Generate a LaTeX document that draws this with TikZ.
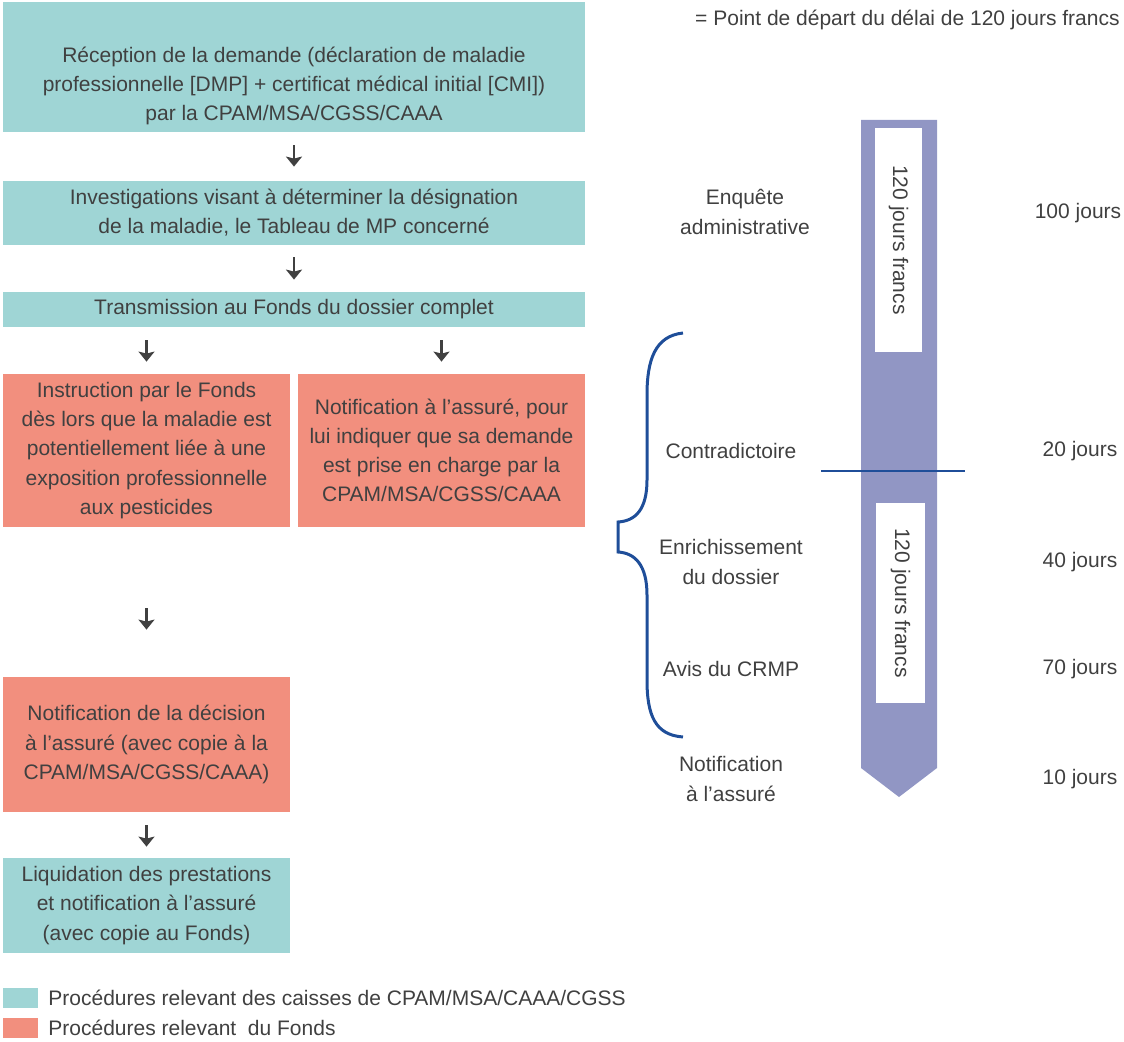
\documentclass[tikz,border=0pt]{standalone}
\usepackage{fontspec}
\setmainfont{Liberation Sans}
\usetikzlibrary{arrows.meta,positioning}

\definecolor{caisse}{HTML}{9FD5D5}
\definecolor{fonds}{HTML}{F28F7E}
\definecolor{barre}{HTML}{9196C4}
\definecolor{bleufonce}{HTML}{1F4E99}
\definecolor{texte}{HTML}{404040}

\tikzset{
  boite/.style={inner sep=0pt, align=center, text=texte,
    font=\fontsize{10.5}{14.6}\selectfont},
  boitecaisse/.style={boite, fill=caisse},
  boitefonds/.style={boite, fill=fonds},
  fleche/.style={->, line width=1.1pt, draw=texte},
  etiq/.style={align=center, text=texte, font=\fontsize{10.5}{14.6}\selectfont},
}

\begin{document}
\begin{tikzpicture}[x=0.5pt, y=-0.5pt, >={Stealth[length=5pt,width=8pt,inset=1pt]}]
  \useasboundingbox (0,0) rectangle (1124,1042);

  % Colonne de gauche
  \node[boitecaisse, minimum width=291pt, minimum height=65pt] (recep) at (294,67) {};
  \node[etiq, inner sep=0pt] (receptxt) at ([yshift=-9.5pt]recep.center)
    {Réception de la demande (déclaration de maladie\\professionnelle [DMP] + certificat médical initial [CMI])\\par la CPAM/MSA/CGSS/CAAA};
  \node[boitecaisse, minimum width=291pt, minimum height=32pt] (invest) at (294,213)
    {Investigations visant à déterminer la désignation\\de la maladie, le Tableau de MP concerné};
  \node[boitecaisse, minimum width=291pt, minimum height=17.5pt] (transm) at (294,309.5)
    {Transmission au Fonds du dossier complet};
  \node[boitefonds, minimum width=143.5pt, minimum height=76.5pt] (instr) at (146.5,450.5)
    {Instruction par le Fonds\\dès lors que la maladie est\\potentiellement liée à une\\exposition professionnelle\\aux pesticides};
  \node[boitefonds, minimum width=143.5pt, minimum height=76.5pt] (notifa) at (441.5,450.5)
    {Notification à l'assuré, pour\\lui indiquer que sa demande\\est prise en charge par la\\CPAM/MSA/CGSS/CAAA};
  \node[boitefonds, minimum width=143.5pt, minimum height=67.5pt] (decision) at (146.5,744.5)
    {Notification de la décision\\à l'assuré (avec copie à la\\CPAM/MSA/CGSS/CAAA)};
  \node[boitecaisse, minimum width=143.5pt, minimum height=47.5pt] (liquid) at (146.5,905.5)
    {Liquidation des prestations\\et notification à l'assuré\\(avec copie au Fonds)};

  % Flèches
  \draw[fleche, shorten <=6.5pt, shorten >=7pt] (recep) -- (invest);
  \draw[fleche, shorten <=6pt, shorten >=6pt] (invest) -- (transm);
  \draw[fleche, shorten <=6.5pt, shorten >=6pt] (instr |- transm.south) -- (instr.north);
  \draw[fleche, shorten <=6.5pt, shorten >=6pt] (notifa |- transm.south) -- (notifa.north);
  \draw[fleche, shorten <=40.5pt, shorten >=23.5pt] (instr) -- (decision);
  \draw[fleche, shorten <=6.5pt, shorten >=5.5pt] (decision) -- (liquid);

  % Légende
  \node[fill=caisse, minimum width=17.5pt, minimum height=10pt, inner sep=0pt] (legcaisse) at (20.5,998) {};
  \node[fill=fonds, minimum width=17.5pt, minimum height=10pt, inner sep=0pt] (legfonds) at (20.5,1028) {};
  \node[etiq, anchor=west, inner sep=0pt] at (48,998) {Procédures relevant des caisses de CPAM/MSA/CAAA/CGSS};
  \node[etiq, anchor=west, inner sep=0pt] at (48,1028) {Procédures relevant\ \ du Fonds};

  % Délai de 120 jours
  \node[etiq, anchor=east, inner sep=0pt] (depart) at (1120,20) {= Point de départ du délai de 120 jours francs};
  \fill[barre] (861,120) -- (937,120) -- (937,768) -- (899,797) -- (861,768) -- cycle;
  \node[fill=white, rotate=-90, minimum width=112pt, minimum height=23.5pt, inner sep=0pt,
        text=texte, font=\fontsize{10.5}{12}\selectfont] (delai1) at (898.5,240) {120 jours francs};
  \node[fill=white, rotate=-90, minimum width=100pt, minimum height=24.5pt, inner sep=0pt,
        text=texte, font=\fontsize{10.5}{12}\selectfont] (delai2) at (900.5,603) {120 jours francs};
  \draw[bleufonce, line width=1.4pt] (821,471) -- (965,471);

  % Accolade
  \draw[bleufonce, line width=1.5pt] (683,333) .. controls (655,336) and (647,360) .. (647,395)
    -- (647,480) .. controls (647,510) and (635,521) .. (618,522) -- (618,552)
    .. controls (635,553) and (647,565) .. (647,595) -- (647,680)
    .. controls (647,715) and (655,735) .. (683,737);

  % Étapes
  \node[etiq] (enquete) at (745,212) {Enquête\\administrative};
  \node[etiq] (contra) at (731,451) {Contradictoire};
  \node[etiq] (enrich) at (731,562) {Enrichissement\\du dossier};
  \node[etiq] (avis) at (731,669) {Avis du CRMP};
  \node[etiq] (notifb) at (731,779) {Notification\\à l'assuré};

  % Durées
  \node[etiq] (d100) at (1078,213) {100 jours};
  \node[etiq] (d20) at (1080,451) {20 jours};
  \node[etiq] (d40) at (1080,562) {40 jours};
  \node[etiq] (d70) at (1080,669) {70 jours};
  \node[etiq] (d10) at (1080,779) {10 jours};
\end{tikzpicture}
\end{document}
